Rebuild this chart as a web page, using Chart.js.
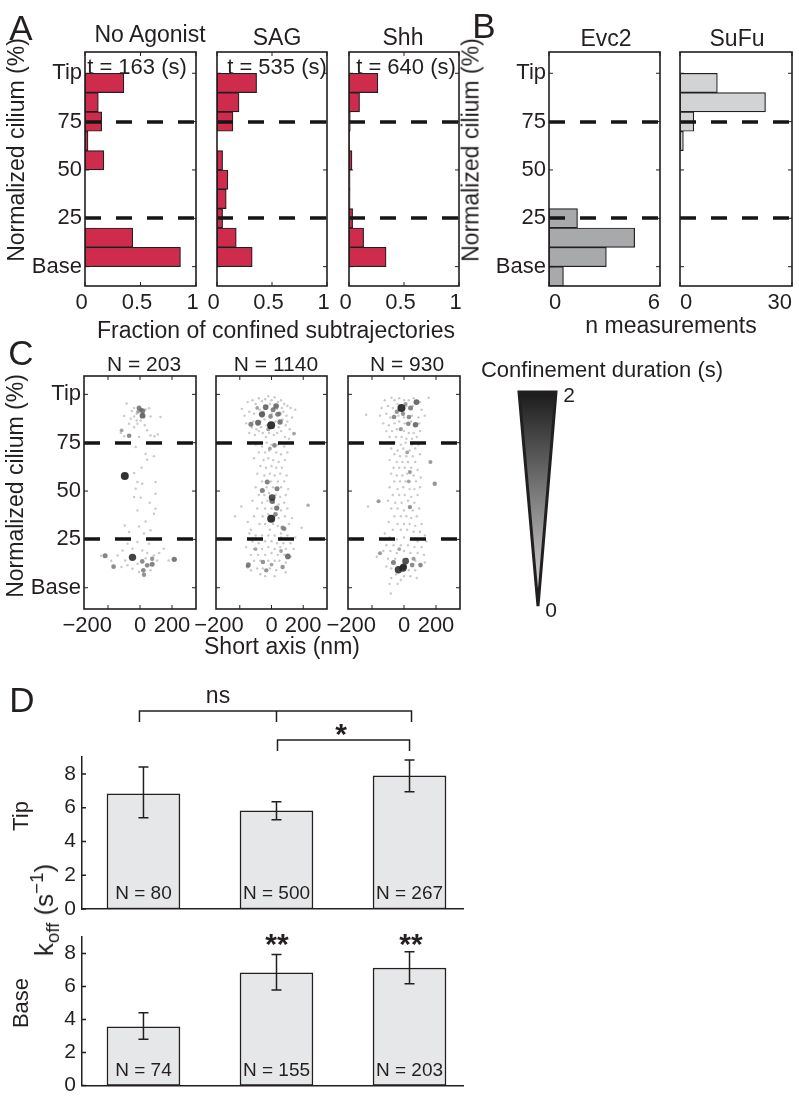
<!DOCTYPE html>
<html>
<head>
<meta charset="utf-8">
<script src="https://cdn.jsdelivr.net/npm/chart.js@4.4.1/dist/chart.umd.min.js"></script>
<style>
  body { margin: 0; background: #fff; }
  #fig { position: relative; width: 799px; height: 1104px; overflow: hidden;
         font-family: "Liberation Sans", Arial, sans-serif; color: #231f20; }
  #fig canvas, #fig svg { position: absolute; left: 0; top: 0; }
  .t { position: absolute; white-space: nowrap; line-height: 1; transform: translate(-50%, -50%); }
  .t.r { transform: translate(-50%, -50%) rotate(-90deg); }
  .t sub, .t sup { font-size: 0.72em; line-height: 0; }
</style>
</head>
<body>
<div id="fig">
  <svg width="799" height="1104">
    <defs>
      <linearGradient id="dur" x1="0" y1="0" x2="0" y2="1">
        <stop offset="0" stop-color="#1c1c1c"/>
        <stop offset="1" stop-color="#e2e2e2"/>
      </linearGradient>
    </defs>
    <polygon points="519,392 556,392 538,606" fill="url(#dur)" stroke="#231f20" stroke-width="3"/>
  </svg>
</div>
<script>
// ---- A / B : histograms along the cilium (bins of 10 %)
const binCenters = [95, 85, 75, 65, 55, 45, 35, 25, 15, 5, -5];
const noAgonist  = [0.35, 0.12, 0.15, 0.027, 0.17, 0, 0, 0, 0.43, 0.86, 0];
const sag        = [0.36, 0.20, 0.145, 0, 0.051, 0.099, 0.084, 0.051, 0.175, 0.32, 0];
const shh        = [0.262, 0.096, 0.012, 0.006, 0.027, 0.01, 0.01, 0.033, 0.133, 0.337, 0];
const evc2       = [0, 0, 0, 0, 0, 0, 0, 1.54, 4.63, 3.1, 0.78];
const sufu       = [10, 22.9, 3.7, 0.9, 0, 0, 0, 0, 0, 0, 0];
const dwellTimes = ['t = 163 (s)', 't = 535 (s)', 't = 640 (s)'];

const ciliumTicks  = [0, 25, 50, 75, 100];
const ciliumLabels = ['Base', '25', '50', '75', 'Tip'];
const dashLevels   = [25, 75];

// ---- C : confined positions [short axis nm, cilium %, duration s]
const faintDur = 0.15;
const confNoAgonist = [[-6,93,1.0],[16,91.5,1.1],[16,89,1.3],[4,92,0.8],[-12,91,0.6],[-68,78.6,0.9],[-115,81.4,0.6],
  [-95,57.8,2.0],[-47,15.7,1.8],[-218,16.6,1.0],[-165,10.9,0.9],[214,14.7,1.1],[14,13.6,0.9],[45,11.6,0.9],
  [76,12.1,1.0],[76,15,0.8],[21,9,0.9],[25,6.7,0.8]];
const faintNoAgonist = [[-84,95.3],[-37,92.9],[-51,91.4],[-21,90],[-37,88.6],[-58,87.4],[-99,88.8],[35,92.2],[56,92.8],
  [66,88.6],[128,88.3],[-16,84.8],[-37,83],[-68,84.8],[45,81.4],[66,78.8],[111,79.3],[91,78.3],[-6,78],[-99,78.3],
  [-21,86.5],[4,86.5],[-120,80],[30,84],
  [-27,72.8],[35,69.3],[87,68],[45,66.2],[-37,59.3],[-16,54.7],[97,54.7],[14,53.8],[-27,51.2],[97,48.6],[-37,46.9],
  [4,46.6],[97,40.9],[-16,40],[87,38.3],[35,34.3],[-95,32.2],[-6,31.7],[25,28],[66,29.7],[-68,28.8],[10,62],[60,44],
  [-78,22.8],[-16,23.6],[56,22.8],[148,20.2],[-109,19.3],[-47,20.2],[14,19.3],[-140,16.7],[-93,14.1],[-16,12.4],
  [-115,10.7],[-78,11.6],[-47,9.8],[87,16.7],[107,14.1],[179,14.1],[-243,16.6],[35,15.2],[-6,8.1],[66,9],[45,18],
  [-180,14],[120,18]];

const confSAG = [[-2,84,2.0],[-2,35.7,2.0],[-60,89.7,1.4],[-37,93.4,1.2],[29,94,1.2],[-85,85.3,1.3],[-130,84.5,1.0],
  [54,85.7,1.1],[39,89.7,1.0],[-6,88.6,0.9],[19,73.6,0.9],[-27,54.7,1.0],[-58,50.3,1.0],[35,51.2,1.0],[4,46.6,1.6],
  [4,44.8,1.2],[33,41.2,1.1],[80,30.5,0.9],[103,16.2,1.2],[-146,11.9,1.0],[-33,9,0.8],[70,10.7,0.8],[-54,13.3,0.8],
  [142,79.7,0.6],[231,42.6,0.5],[10,92,1.0],[50,90,0.8],[-20,82,0.7],[-90,93,0.6],[25,38,0.9],[70,31,0.8],
  [-10,72,0.6],[60,19,0.6],[-100,20,0.6],[-150,11,0.7],[0,12,0.6]];
const faintSAG = [[-187,92.5],[-150,96],[-120,97],[-100,95],[-80,98],[-60,96.5],[-40,97.5],[-20,99],[0,97],[20,98.5],
  [40,96],[60,97],[80,95],[100,94],[120,93],[150,92],[-170,89],[-140,91],[-110,90],[-75,92],[-50,91],[-25,94],[15,93],
  [35,92.5],[75,91],[95,89],[130,88],[-160,85],[-115,86],[-95,82],[-70,86],[-45,87],[-30,84],[25,86],[45,83],[70,87],
  [90,84],[115,82],[-140,80],[-105,79],[-80,81],[-55,80],[-35,78],[-15,80],[15,79],[35,80],[60,81],[85,78],[110,77],
  [-125,83],[0,90],[-10,95],[65,93],[-65,83],[100,86],
  [-100,74],[-60,73],[-30,75],[0,74],[40,74],[80,73],[-80,70],[-40,70],[-15,71],[30,70],[60,69],[100,70],[-110,67],
  [-50,66],[-20,67],[10,66],[45,65],[85,66],[-70,63],[-35,62],[0,63],[30,62],[65,62],[-90,59],[-45,58],[-10,59],
  [20,58],[55,59],[95,58],[-60,55],[-5,55],[40,55],[80,55],[-100,52],[-30,52],[10,52],[60,52],[105,51],[-80,48],
  [-45,48],[-15,49],[25,48],[55,47],[90,48],[-120,45],[-60,44],[-25,45],[15,44],[45,43],[80,44],[-90,41],[-40,41],
  [0,41],[60,40],[100,41],[-190,42],[-230,37],[-110,37],[-55,37],[-20,38],[20,37],[45,36],[85,37],[-75,33],[-40,33],
  [10,33],[40,32],[110,33],[-130,30],[-10,30],[60,28],[190,31],[130,36],[-150,34],
  [-140,28],[-100,27],[-60,27],[-20,27],[20,27],[60,26],[100,27],[150,26],[-120,24],[-80,23],[-40,24],[0,24],[35,23],
  [75,23],[120,23],[-160,21],[-110,20],[-60,20],[-20,21],[20,20],[55,21],[90,20],[140,20],[-130,17],[-85,17],[-40,17],
  [0,18],[40,17],[80,17],[120,16],[-110,14],[-70,14],[-20,14],[20,14],[50,14],[90,13],[-130,9],[-90,10],[-55,10],
  [-10,10],[30,9],[90,8],[-70,7],[20,6],[-40,6]];

const confShh = [[-16,92.9,2.0],[78,96,1.3],[41,92.9,1.0],[-62,88.3,0.9],[31,88.3,0.9],[72,84.3,1.2],[27,84.8,0.9],
  [-6,90,0.8],[165,65,0.7],[192,53.8,0.8],[-159,44.7,0.7],[37,41.7,0.8],[-35,9.3,1.8],[-6,10.2,1.8],[10,13.8,1.6],
  [-2,11,1.5],[-66,13,1.0],[51,11.7,0.9],[103,11.7,0.9],[-150,17.8,0.7],[37,59.8,0.7],[30,55,0.6],[-20,82,0.7],
  [-45,91,0.8],[10,95,0.7],[20,70,0.6],[-30,20,0.6],[60,15,0.7]];
const faintShh = [[-78,98.3],[154,98.3],[-237,89.5],[-120,97],[-60,97],[-30,98],[0,97],[30,97],[60,98],[100,96],
  [-140,93],[-100,94],[-70,93],[-40,95],[15,94],[55,94],[110,92],[-150,89],[-110,90],[-85,88],[-35,89],[0,88],[50,89],
  [90,88],[130,89],[-130,85],[-95,84],[-60,85],[-30,86],[5,85],[45,86],[95,85],[-110,81],[-75,81],[-45,82],[0,81],
  [30,80],[60,80],[100,81],[-90,78],[-50,78],[-15,78],[15,77],[50,77],[80,78],
  [-60,75],[-20,74],[10,75],[50,74],[90,74],[-80,72],[-40,71],[-5,72],[35,71],[70,72],[-60,69],[-25,68],[15,68],
  [55,68],[100,69],[-90,66],[-45,65],[-10,65],[25,65],[70,65],[-65,62],[-30,62],[5,62],[45,62],[85,61],[-80,59],
  [-45,58],[-10,58],[20,59],[60,58],[105,57],[-60,55],[-25,55],[10,55],[75,55],[-90,52],[-40,51],[-5,52],[35,51],
  [65,51],[100,52],[-70,48],[-30,48],[5,48],[45,47],[85,48],[-100,45],[-55,44],[-15,44],[25,45],[65,44],[-80,41],
  [-40,41],[0,40],[55,40],[95,41],[-225,42],[-60,37],[-20,37],[15,37],[45,36],[80,37],[-95,34],[-40,33],[0,33],
  [35,33],[70,32],[110,33],[-70,30],[-20,30],[20,30],[60,29],[100,29],[-120,28],[130,27],
  [-90,26],[-45,25],[0,26],[40,25],[85,24],[140,24],[-110,22],[-65,22],[-20,22],[25,22],[65,21],[110,21],[-130,19],
  [-85,19],[-45,18],[0,19],[40,18],[85,18],[125,17],[-170,16],[-100,15],[-55,15],[20,15],[70,14],[130,13],[-110,11],
  [-80,10],[30,9],[70,9],[-50,7],[0,6],[40,6],[-80,5],[-20,4],[80,5],[-40,2],[-90,2],[-82,-3]];
const shortAxisTicks  = [-200, 0, 200];
const shortAxisLabels = ['\u2212200', '0', '200'];
const sampleSizes = ['N = 203', 'N = 1140', 'N = 930'];

// ---- D : off-rates (s^-1) at tip and base, mean with error range
const conditions = [1, 2, 3];
const tipKoff  = [6.82, 5.82, 7.88];
const tipHi    = [8.41, 6.35, 8.82];
const tipLo    = [5.41, 5.29, 6.94];
const tipN     = [80, 500, 267];
const baseKoff = [3.55, 6.82, 7.12];
const baseHi   = [4.41, 7.94, 8.10];
const baseLo   = [2.80, 5.78, 6.16];
const baseN    = [74, 155, 203];
const koffTicks  = [0, 2, 4, 6, 8];
const koffLabels = ['0', '2', '4', '6', '8'];

const W = 799, H = 1104;
const INK = '#231f20';
const FONT = '"Liberation Sans", Arial, sans-serif';
const TICK = 22;
const fig = document.getElementById('fig');

Chart.defaults.font.family = FONT;
Chart.defaults.color = INK;
Chart.defaults.animation = false;
Chart.defaults.plugins.legend.display = false;
Chart.defaults.plugins.tooltip.enabled = false;

function addCanvas() {
  const c = document.createElement('canvas');
  c.width = W; c.height = H;
  fig.appendChild(c);
  return c;
}

// box = [left, top, right, bottom] of the plot frame in page pixels.
// The left / bottom scales are stretched to fill the margin, so the frame lands on the box.
const pad = b => ({ left: 0, top: b[1], right: W - b[2], bottom: 0 });
const fitTo = b => s => { if (s.isHorizontal()) s.height = H - b[3]; else s.width = b[0]; };

function axis(box, min, max, ticks, labels, show, padding, shift = 0, align = 'center') {
  return {
    type: 'linear', min, max, offset: false,
    afterBuildTicks: s => { s.ticks = ticks.map(v => ({ value: v })); },
    afterFit: fitTo(box),
    grid: { display: false, drawTicks: false },
    border: { display: false },
    ticks: { display: show, padding, autoSkip: false, maxRotation: 0, color: INK, labelOffset: shift, align,
             font: { size: TICK }, callback: (v, i) => labels[i] }
  };
}

// frame, inward tick marks and dashed 25 / 75 % lines
const framePlugin = {
  id: 'frame',
  afterDatasetsDraw(chart) {
    const { ctx, chartArea: a, scales: { x, y } } = chart;
    ctx.save();
    ctx.strokeStyle = '#151515';
    ctx.lineWidth = 3.5;
    ctx.setLineDash([16, 15]);
    dashLevels.forEach(v => {
      const py = Math.round(y.getPixelForValue(v));
      ctx.beginPath(); ctx.moveTo(a.left, py); ctx.lineTo(a.right, py); ctx.stroke();
    });
    ctx.setLineDash([]);
    ctx.strokeStyle = INK;
    ctx.lineWidth = 1;
    ctx.beginPath();
    y.ticks.forEach(t => {
      const py = y.getPixelForValue(t.value);
      ctx.moveTo(a.left, py); ctx.lineTo(a.left + 4, py);
      ctx.moveTo(a.right, py); ctx.lineTo(a.right - 4, py);
    });
    x.ticks.forEach(t => {
      const px = x.getPixelForValue(t.value);
      ctx.moveTo(px, a.bottom); ctx.lineTo(px, a.bottom - 4);
      ctx.moveTo(px, a.top); ctx.lineTo(px, a.top + 4);
    });
    ctx.stroke();
    ctx.lineWidth = 1.6;
    ctx.strokeRect(a.left, a.top, a.right - a.left, a.bottom - a.top);
    ctx.restore();
  }
};

// short-axis labels: negative label ends near its tick so it clears the "0"
const shortAxisPlugin = {
  id: 'shortAxis',
  afterDraw(chart) {
    const { ctx, chartArea: a, scales: { x } } = chart;
    ctx.save();
    ctx.fillStyle = INK;
    ctx.font = TICK + 'px ' + FONT;
    ctx.textBaseline = 'middle';
    shortAxisTicks.forEach((v, i) => {
      const px = x.getPixelForValue(v);
      ctx.textAlign = v < 0 ? 'right' : 'center';
      ctx.fillText(shortAxisLabels[i], v < 0 ? px + 4 : px, a.bottom + 17);
    });
    ctx.restore();
  }
};

function histChart(box, values, color, xMax, xTicks, xLabels, showY, shift, align) {
  new Chart(addCanvas(), {
    type: 'bar',
    data: { datasets: [{
      data: binCenters.map((b, i) => ({ x: values[i] || null, y: b })),
      backgroundColor: color, borderColor: INK, borderWidth: 1.2, borderSkipped: false,
      barPercentage: 1, categoryPercentage: 1
    }] },
    options: {
      indexAxis: 'y', responsive: false,
      layout: { padding: pad(box) },
      scales: {
        x: axis(box, 0, xMax, xTicks, xLabels, true, 4, shift, align),
        y: axis(box, -10, 111, ciliumTicks, ciliumLabels, showY, 3)
      }
    },
    plugins: [framePlugin]
  });
}

const shade = d => {
  const g = Math.round(205 - 95 * Math.min(d, 2));
  return `rgba(${g},${g},${g},0.85)`;
};

function scatterChart(box, dark, faint, showY) {
  const pts = faint.map(([x, y]) => ({ x, y, d: faintDur }))
    .concat(dark.map(([x, y, d]) => ({ x, y, d })).sort((p, q) => p.d - q.d));
  new Chart(addCanvas(), {
    type: 'scatter',
    data: { datasets: [{
      data: pts,
      pointRadius: c => 1.0 + 1.5 * c.raw.d,
      backgroundColor: c => shade(c.raw.d),
      pointBorderWidth: 0
    }] },
    options: {
      responsive: false,
      layout: { padding: pad(box) },
      scales: {
        x: axis(box, -350, 350, shortAxisTicks, shortAxisLabels, false, 4),
        y: axis(box, -11, 109.5, ciliumTicks, ciliumLabels, showY, 3)
      }
    },
    plugins: [framePlugin, shortAxisPlugin]
  });
}

// error bars, N labels, inward y ticks (and comparison brackets on the tip chart)
function koffPlugin(hi, lo, ns, brackets) {
  return {
    id: 'koff',
    afterDatasetsDraw(chart) {
      const { ctx, chartArea: a, scales: { y } } = chart;
      const bars = chart.getDatasetMeta(0).data;
      ctx.save();
      ctx.strokeStyle = INK;
      ctx.lineWidth = 1.5;
      ctx.beginPath();
      bars.forEach((b, i) => {
        const h = y.getPixelForValue(hi[i]), l = y.getPixelForValue(lo[i]);
        ctx.moveTo(b.x, h); ctx.lineTo(b.x, l);
        ctx.moveTo(b.x - 5, h); ctx.lineTo(b.x + 5, h);
        ctx.moveTo(b.x - 5, l); ctx.lineTo(b.x + 5, l);
      });
      y.ticks.forEach(t => {
        const py = y.getPixelForValue(t.value);
        ctx.moveTo(a.left, py); ctx.lineTo(a.left + 4, py);
      });
      if (brackets) {
        const [p, q, r] = bars.map(b => b.x);
        const y1 = a.top - 46, y2 = a.top - 17;
        ctx.moveTo(p - 4, y1 + 11); ctx.lineTo(p - 4, y1); ctx.lineTo(r + 2, y1); ctx.lineTo(r + 2, y1 + 11);
        ctx.moveTo(q, y1); ctx.lineTo(q, y1 + 11);
        ctx.moveTo(q + 1, y2 + 11); ctx.lineTo(q + 1, y2); ctx.lineTo(r, y2); ctx.lineTo(r, y2 + 11);
      }
      ctx.stroke();
      ctx.fillStyle = INK;
      ctx.font = '19px ' + FONT;
      ctx.textAlign = 'center';
      ctx.textBaseline = 'middle';
      bars.forEach((b, i) => ctx.fillText('N = ' + ns[i], b.x, a.bottom - 15));
      ctx.restore();
    }
  };
}

function koffChart(box, vals, hi, lo, ns, brackets) {
  new Chart(addCanvas(), {
    type: 'bar',
    data: { datasets: [{
      data: conditions.map((c, i) => ({ x: c, y: vals[i] })),
      backgroundColor: '#e6e7e8', borderColor: INK, borderWidth: 1.5, borderSkipped: false,
      barThickness: 73
    }] },
    options: {
      responsive: false,
      layout: { padding: pad(box) },
      scales: {
        x: { type: 'linear', min: 0.538, max: 3.402, offset: false, afterFit: fitTo(box),
             grid: { display: false, drawTicks: false }, ticks: { display: false },
             border: { display: true, color: INK, width: 1.5 } },
        y: { type: 'linear', min: 0, max: 9, afterFit: fitTo(box),
             afterBuildTicks: s => { s.ticks = koffTicks.map(v => ({ value: v })); },
             grid: { display: false, drawTicks: false },
             border: { display: true, color: INK, width: 1.5 },
             ticks: { padding: 6, color: INK, font: { size: 21 }, autoSkip: false,
                      callback: (v, i) => koffLabels[i] } }
      }
    },
    plugins: [koffPlugin(hi, lo, ns, brackets)]
  });
}

const RED = '#cf2c4d';
histChart([85, 52, 196, 286], noAgonist, RED, 1, [0, 0.5, 1], ['0', '0.5', '1'], true, -3.5);
histChart([217, 52, 327, 286], sag, RED, 1, [0, 0.5, 1], ['0', '0.5', '1'], false, -3.5);
histChart([349, 52, 459, 286], shh, RED, 1, [0, 0.5, 1], ['0', '0.5', '1'], false, -3.5);
histChart([549, 52, 660, 286], evc2, '#a8a9ab', 6, [0, 6], ['0', '6'], true, 0, 'inner');
histChart([680, 52, 792, 286], sufu, '#d2d3d5', 30, [0, 30], ['0', '30'], false, 0, 'inner');

scatterChart([84, 376, 196, 609], confNoAgonist, faintNoAgonist, true);
scatterChart([216, 376, 327, 609], confSAG, faintSAG, false);
scatterChart([348, 376, 460, 609], confShh, faintShh, false);

koffChart([82, 757, 463, 909], tipKoff, tipHi, tipLo, tipN, true);
koffChart([82, 937, 463, 1090], baseKoff, baseHi, baseLo, baseN, false);

// text
function label(html, x, y, size, opts = {}) {
  const d = document.createElement('div');
  d.className = 't' + (opts.rot ? ' r' : '');
  d.style.left = x + 'px';
  d.style.top = y + 'px';
  d.style.fontSize = size + 'px';
  if (opts.bold) d.style.fontWeight = 'bold';
  d.innerHTML = html;
  fig.appendChild(d);
}

label('A', 21, 27, 35);
label('B', 484, 25, 35);
label('C', 21, 352, 35);
label('D', 22, 699, 35);

label('No Agonist', 150, 34, 23);
label('SAG', 277, 37, 23);
label('Shh', 403, 37, 23);
[137, 277, 406].forEach((x, i) => label(dwellTimes[i], x, 67, 22));
label('Fraction of confined subtrajectories', 276, 330, 23);
label('Normalized cilium (%)', 16, 150, 23, { rot: true });

label('Evc2', 606, 38, 23);
label('SuFu', 737, 38, 23);
label('n measurements', 671, 325, 23);
label('Normalized cilium (%)', 471, 150, 23, { rot: true });

[144, 276, 407].forEach((x, i) => label(sampleSizes[i], x, 363, 21));
label('Short axis (nm)', 282, 646, 23);
label('Normalized cilium (%)', 15, 486, 23, { rot: true });
label('Confinement duration (s)', 602, 370, 22);
label('2', 569, 394, 21);
label('0', 551, 609, 21);

label('ns', 218, 695, 23);
label('*', 341, 734, 30, { bold: true });
label('**', 277, 944, 30, { bold: true });
label('**', 411, 944, 30, { bold: true });
label('Tip', 21, 816, 22, { rot: true });
label('Base', 21, 1003, 22, { rot: true });
label('k<sub>off</sub> (s<sup>\u22121</sup>)', 44, 910, 26, { rot: true });
</script>
</body>
</html>
